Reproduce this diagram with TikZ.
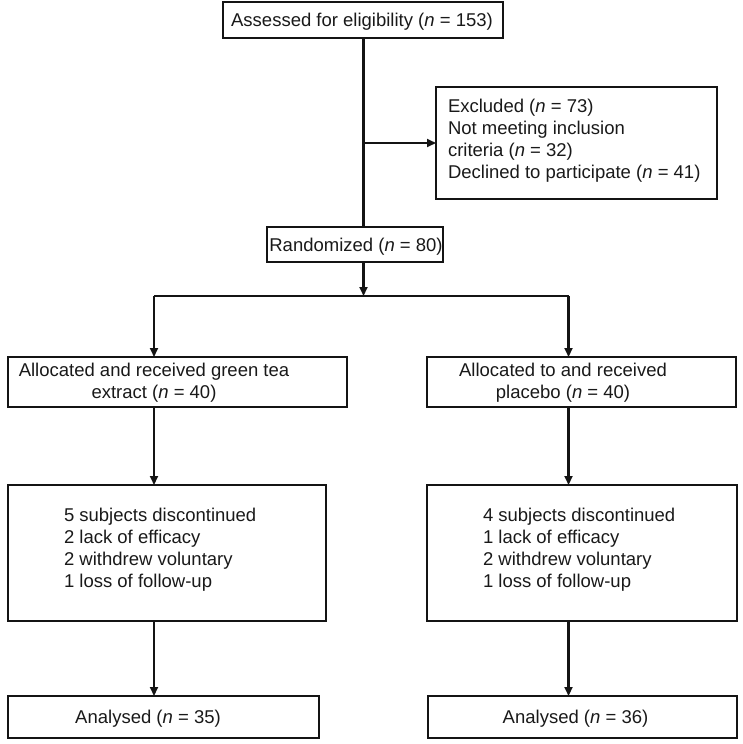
\documentclass[tikz,border=0pt]{standalone}
\usepackage{fontspec}
\setmainfont{Liberation Sans}
\usetikzlibrary{arrows.meta}
\begin{document}
\begin{tikzpicture}[x=1pt,y=-1pt,
  box/.style={draw=black!92, line width=2.8pt, inner sep=0pt, outer sep=0pt},
  txt/.style={inner sep=0pt, outer sep=0pt, font=\fontsize{18.5}{21.8}\selectfont, text=black!90},
  conn/.style={line width=2.1pt, draw=black!92},
  arr/.style={conn, -{Triangle[length=9pt,width=8pt]}},
]
\useasboundingbox (0,0) rectangle (743,744);

% boxes
\node[box, minimum width=280pt, minimum height=36pt] (top) at (363,20) {};
\node[box, minimum width=281pt, minimum height=112pt] (excl) at (576.5,143) {};
\node[box, minimum width=176pt, minimum height=35pt] (rand) at (355,244.5) {};
\node[box, minimum width=339pt, minimum height=50pt] (allocL) at (177.5,382) {};
\node[box, minimum width=309pt, minimum height=50pt] (allocR) at (581.5,382) {};
\node[box, minimum width=318pt, minimum height=136pt] (midL) at (167,553) {};
\node[box, minimum width=310pt, minimum height=136pt] (midR) at (582,553) {};
\node[box, minimum width=311pt, minimum height=42pt] (botL) at (163.5,717) {};
\node[box, minimum width=309pt, minimum height=42pt] (botR) at (582.5,717) {};

% texts
\node[txt, anchor=base] (ttop) at (362,27) {Assessed for eligibility (\textit{n} = 153)};
\node[txt, anchor=north west, align=left] (texcl) at (448,99.5)
  {Excluded (\textit{n} = 73)\\Not meeting inclusion\\criteria (\textit{n} = 32)\\Declined to participate (\textit{n} = 41)};
\node[txt, anchor=base] (trand) at (356,251) {Randomized (\textit{n} = 80)};
\node[txt, anchor=north, align=center] (tallocL) at (154,363.5)
  {Allocated and received green tea\\extract (\textit{n} = 40)};
\node[txt, anchor=north, align=center] (tallocR) at (563,363.5)
  {Allocated to and received\\placebo (\textit{n} = 40)};
\node[txt, anchor=north west, align=left] (tmidL) at (64,508.5)
  {5 subjects discontinued\\2 lack of efficacy\\2 withdrew voluntary\\1 loss of follow-up};
\node[txt, anchor=north west, align=left] (tmidR) at (483,508.5)
  {4 subjects discontinued\\1 lack of efficacy\\2 withdrew voluntary\\1 loss of follow-up};
\node[txt, anchor=base] (tbotL) at (148,723) {Analysed (\textit{n} = 35)};
\node[txt, anchor=base] (tbotR) at (575.5,723) {Analysed (\textit{n} = 36)};

% connectors
\coordinate (j1) at (top.south |- excl.west);
\coordinate (split) at (363.5,296);
\coordinate (sL) at (154,296);
\coordinate (sR) at (568.5,296);

\draw[conn] (top.south -| split) -- (rand.north -| split);
\draw[arr] (j1) -- (excl.west);
\draw[arr] (rand.south -| split) -- (split);
\draw[conn, line width=1.6pt] (sL) -- (sR);
\draw[arr] (sL) -- (sL |- allocL.north);
\draw[arr] (sR) -- (sR |- allocR.north);
\draw[arr] (allocL.south -| sL) -- (midL.north -| sL);
\draw[arr] (allocR.south -| sR) -- (midR.north -| sR);
\draw[arr] (midL.south -| sL) -- (botL.north -| sL);
\draw[arr] (midR.south -| sR) -- (botR.north -| sR);
\end{tikzpicture}
\end{document}
